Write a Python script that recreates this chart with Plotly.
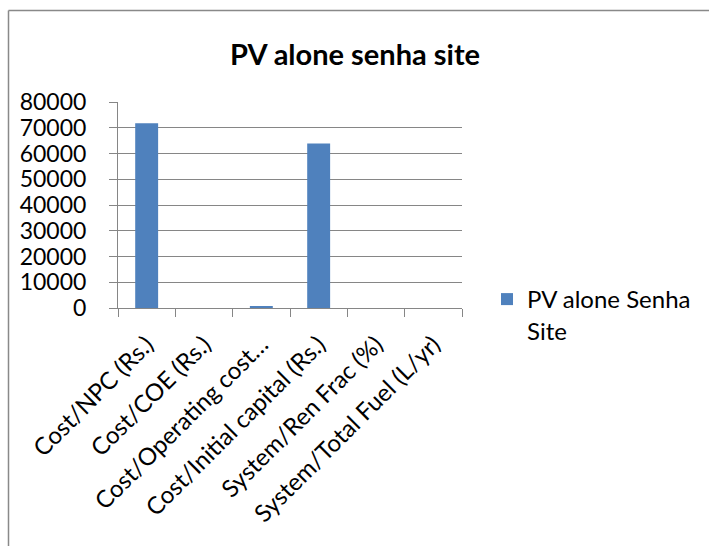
import plotly.graph_objects as go

categories = ["Cost/NPC (Rs.)", "Cost/COE (Rs.)", "Cost/Operating cost…",
              "Cost/Initial capital (Rs.)", "System/Ren Frac (%)", "System/Total Fuel (L/yr)"]
values = [71700, 0, 600, 63900, 0, 0]
series_name = "PV alone Senha<br>Site"
y_ticks = [0, 10000, 20000, 30000, 40000, 50000, 60000, 70000, 80000]

W, H = 709, 546
L, R, T, B = 118, 462, 102, 308

def px_x(p):
    return (p - L) / (R - L)

def px_y(p):
    return (B - p) / (B - T)

fig = go.Figure()
fig.add_trace(go.Bar(
    x=categories, y=values, name=series_name,
    marker=dict(color="#4F81BD", line=dict(width=0)),
    width=0.4, showlegend=True,
))

font_family = "Lato, Liberation Sans, Arial"

fig.update_layout(
    width=W, height=H,
    margin=dict(l=L, r=W - R, t=T, b=H - B, pad=0, autoexpand=False),
    paper_bgcolor="white", plot_bgcolor="white",
    font=dict(family=font_family, color="black", size=22),
    title=dict(text="<b>PV alone senha site</b>", x=355 / W, xanchor="center",
               y=1 - 55 / H, yanchor="middle", font=dict(size=29, family=font_family)),
    showlegend=True,
    legend=dict(x=px_x(487), xanchor="left", y=px_y(277), yanchor="top",
                font=dict(size=24, family=font_family), itemwidth=30, valign="top",
                bgcolor="rgba(0,0,0,0)"),
)
fig.update_xaxes(
    type="category", tickangle=-45, tickson="boundaries", ticks="outside",
    ticklen=8, tickcolor="#868686", showline=True, linecolor="#868686", linewidth=1,
    showgrid=False, automargin=False, ticklabelstandoff=12,
    tickfont=dict(size=24, family=font_family),
)
fig.update_yaxes(
    range=[0, 80000], tickvals=y_ticks, ticktext=[str(v) for v in y_ticks],
    ticks="outside", ticklen=8, tickcolor="#868686",
    showgrid=True, gridcolor="#868686", gridwidth=1,
    showline=True, linecolor="#868686", linewidth=1, automargin=False,
    zeroline=False, ticklabelstandoff=18, tickfont=dict(size=23, family=font_family),
)

# outer frame lines (partial chart border)
fig.add_shape(type="line", xref="paper", yref="paper",
              x0=px_x(8.5), x1=px_x(720), y0=px_y(10.5), y1=px_y(10.5),
              line=dict(color="#898989", width=1.5))
fig.add_shape(type="line", xref="paper", yref="paper",
              x0=px_x(8.5), x1=px_x(8.5), y0=px_y(10.5), y1=px_y(560),
              line=dict(color="#898989", width=1.5))

fig.write_html("out.html", config={"displayModeBar": False},
               post_script="document.body.style.margin='0px';")
